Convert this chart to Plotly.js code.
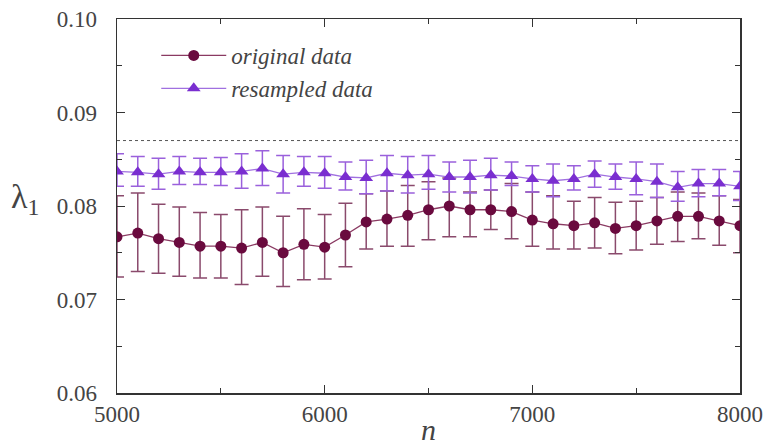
<!DOCTYPE html>
<html>
<head>
<meta charset="utf-8">
<script src="https://cdn.plot.ly/plotly-3.0.1.min.js"></script>
</head>
<body style="margin:0;background:#fff;font-family:'Liberation Serif'">
<div id="chart" style="width:766px;height:446px"></div>
<script>
// sample sizes
const n = [5000,5100,5200,5300,5400,5500,5600,5700,5800,5900,6000,6100,6200,6300,6400,6500,
           6600,6700,6800,6900,7000,7100,7200,7300,7400,7500,7600,7700,7800,7900,8000];
// original data
const origY  = [0.0767,0.0771,0.0765,0.0761,0.0757,0.0757,0.0755,0.0761,0.0750,0.0759,0.0756,0.0769,0.0783,0.0786,0.0790,0.0796,
                0.0800,0.0796,0.0796,0.0794,0.0785,0.0781,0.0779,0.0782,0.0776,0.0779,0.0784,0.0789,0.0789,0.0784,0.0779];
const origHi = [0.0811,0.0814,0.0802,0.0799,0.0793,0.0791,0.0796,0.0799,0.0789,0.0797,0.0791,0.0803,0.0813,0.0816,0.0822,0.0826,
                0.0830,0.0815,0.0817,0.0824,0.0815,0.0811,0.0805,0.0809,0.0804,0.0805,0.0809,0.0815,0.0814,0.0811,0.0807];
const origLo = [0.0724,0.0730,0.0728,0.0725,0.0723,0.0723,0.0716,0.0725,0.0714,0.0721,0.0722,0.0735,0.0754,0.0757,0.0757,0.0764,
                0.0767,0.0767,0.0775,0.0765,0.0757,0.0754,0.0754,0.0755,0.0749,0.0753,0.0759,0.0762,0.0765,0.0758,0.0750];
// resampled data
const resY  = [0.0837,0.0836,0.0834,0.0837,0.0836,0.0836,0.0837,0.0840,0.0834,0.0836,0.0835,0.0831,0.0830,0.0835,0.0833,0.0834,
               0.0831,0.0831,0.0833,0.0832,0.0829,0.0827,0.0829,0.0834,0.0831,0.0829,0.0826,0.0820,0.0824,0.0824,0.0821];
const resHi = [0.0856,0.0853,0.0851,0.0853,0.0851,0.0852,0.0856,0.0859,0.0854,0.0853,0.0853,0.0847,0.0849,0.0854,0.0853,0.0854,
               0.0847,0.0849,0.0851,0.0847,0.0843,0.0845,0.0843,0.0848,0.0845,0.0847,0.0845,0.0837,0.0839,0.0839,0.0837];
const resLo = [0.0821,0.0821,0.0818,0.0823,0.0823,0.0822,0.0819,0.0822,0.0814,0.0821,0.0819,0.0817,0.0813,0.0816,0.0814,0.0818,
               0.0815,0.0814,0.0817,0.0822,0.0815,0.0810,0.0817,0.0820,0.0818,0.0812,0.0809,0.0805,0.0810,0.0811,0.0806];
const refLevel = 0.087;
const seriesNames = ['original data', 'resampled data'];
const xTicks = [5000, 6000, 7000, 8000];
const yTicks = [0.06, 0.07, 0.08, 0.09, 0.10];
const yTickText = ['0.06', '0.07', '0.08', '0.09', '0.10'];

const up = (hi, y) => hi.map((h, i) => +(h - y[i]).toFixed(5));
const dn = (lo, y) => lo.map((l, i) => +(y[i] - l).toFixed(5));

function buildTraces() {
  return [
    {
      x: n, y: origY, name: seriesNames[0], type: 'scatter', mode: 'lines+markers',
      line: {color: '#8a3a62', width: 1.3},
      marker: {symbol: 'circle', size: 11, color: '#6a0a3e'},
      error_y: {type: 'data', symmetric: false, array: up(origHi, origY), arrayminus: dn(origLo, origY),
                color: '#8a4a6c', thickness: 1.5, width: 7}
    },
    {
      x: n, y: resY, name: seriesNames[1], type: 'scatter', mode: 'lines+markers',
      line: {color: '#a070e0', width: 1.3},
      marker: {symbol: 'triangle-up', size: 12, color: '#7a2ed0'},
      error_y: {type: 'data', symmetric: false, array: up(resHi, resY), arrayminus: dn(resLo, resY),
                color: '#9a60dc', thickness: 1.5, width: 7}
    }
  ];
}

function buildLayout() {
  return {
    width: 766, height: 446,
    margin: {l: 117, r: 26, t: 19, b: 53},
    paper_bgcolor: '#fff', plot_bgcolor: '#fff',
    font: {family: 'Liberation Serif', size: 23},
    showlegend: true,
    legend: {x: 0.063, y: 0.96, xanchor: 'left', yanchor: 'top', bgcolor: 'rgba(0,0,0,0)',
             font: {family: 'Liberation Serif', size: 23, style: 'italic'},
             itemwidth: 65, tracegroupgap: 0},
    xaxis: {
      range: [5000, 8000], tickvals: xTicks, ticktext: xTicks.map(String),
      ticks: 'inside', ticklen: 8, tickcolor: '#333', showline: true, linecolor: '#333', linewidth: 1.5,
      mirror: 'ticks', showgrid: false, zeroline: false,
      minor: {dtick: 500, tick0: 5000, ticks: 'inside', ticklen: 5, tickcolor: '#333', showgrid: false},
      title: {text: '<i>n</i>', font: {family: 'Liberation Serif', size: 30}, standoff: 0}
    },
    yaxis: {
      range: [0.06, 0.10], tickvals: yTicks, ticktext: yTickText,
      ticks: 'inside', ticklen: 8, tickcolor: '#333', showline: true, linecolor: '#333', linewidth: 1.5,
      mirror: 'ticks', showgrid: false, zeroline: false, ticklabelstandoff: 14,
      minor: {dtick: 0.005, tick0: 0.06, ticks: 'inside', ticklen: 5, tickcolor: '#333', showgrid: false}
    },
    shapes: [
      {type: 'line', xref: 'paper', x0: 0, x1: 1, yref: 'y', y0: refLevel, y1: refLevel,
       line: {color: '#555', width: 1, dash: 'dot'}}
    ],
    annotations: [
      {text: 'λ<sub>1</sub>', xref: 'paper', yref: 'paper', x: -0.148, y: 0.52, xanchor: 'center', yanchor: 'middle',
       showarrow: false, font: {family: 'Liberation Serif', size: 34}}
    ]
  };
}

function draw() {
  Plotly.newPlot('chart', buildTraces(), buildLayout(), {staticPlot: true});
}

draw();
if (document.fonts && document.fonts.load) {
  Promise.all([
    document.fonts.load('23px "Liberation Serif"', '0.10 5000'),
    document.fonts.load('italic 23px "Liberation Serif"', 'original data')
  ]).then(function () { draw(); }).catch(function () {});
}
</script>
</body>
</html>
